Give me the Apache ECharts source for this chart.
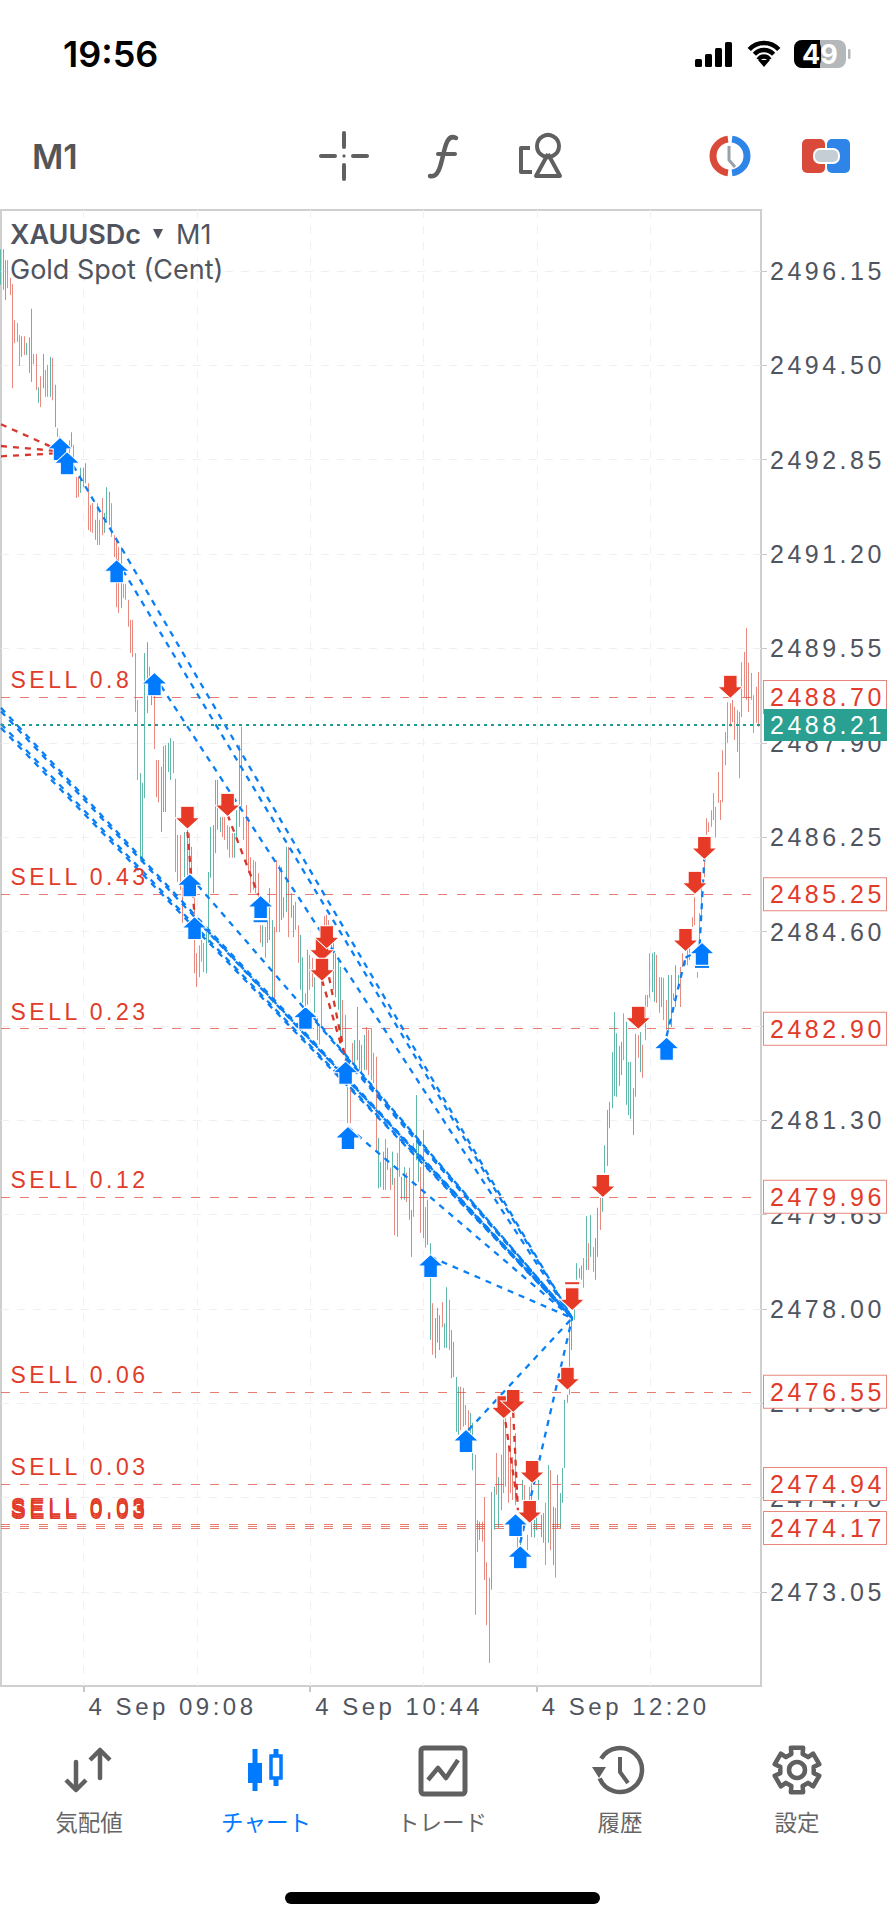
<!DOCTYPE html>
<html><head><meta charset="utf-8">
<style>
html,body{margin:0;padding:0;background:#fff}
#c{width:887px;height:1920px}
#c text[style*="Liberation Sans"]{letter-spacing:3.5px}
</style>
<script src="https://cdn.jsdelivr.net/npm/echarts@6/dist/echarts.min.js"></script>
</head><body><div id="c"></div>
<script>
const symbolName = 'XAUUSDc';
const priceTicks = [2473.05,2474.70,2476.35,2478.00,2479.65,2481.30,2482.95,2484.60,2486.25,2487.90,2489.55,2491.20,2492.85,2494.50,2496.15];
const barHigh = [2496.53,2496.53,2496.34,2496.34,2496.03,2495.92,2495.29,2495.24,2495.03,2495.01,2495.01,2494.89,2494.99,2495.49,2494.70,2494.70,2494.12,2494.31,2494.70,2494.42,2494.51,2494.65,2494.63,2494.16,2493.40,2493.26,2493.11,2493.02,2493.06,2493.19,2493.33,2493.11,2492.55,2492.55,2492.71,2492.71,2492.79,2492.44,2492.06,2492.09,2491.80,2492.09,2491.80,2492.18,2491.92,2492.37,2492.29,2492.09,2491.53,2491.50,2491.32,2491.32,2490.68,2490.68,2490.40,2490.05,2490.05,2489.47,2488.65,2487.37,2487.20,2489.47,2489.66,2489.23,2488.91,2488.82,2487.60,2487.60,2487.48,2487.84,2487.86,2487.90,2487.98,2487.93,2487.27,2486.29,2486.29,2485.36,2486.34,2486.38,2486.32,2486.08,2485.19,2484.22,2484.36,2484.45,2484.40,2484.59,2485.64,2486.43,2486.46,2487.25,2487.25,2486.60,2486.60,2486.60,2486.46,2486.43,2486.32,2486.32,2486.72,2487.86,2488.18,2486.60,2486.81,2486.60,2485.90,2485.85,2485.82,2485.62,2484.71,2484.71,2484.68,2484.77,2485.36,2484.80,2484.68,2485.85,2485.76,2485.73,2485.20,2486.08,2486.08,2485.27,2485.06,2485.12,2484.71,2484.54,2484.15,2483.52,2484.28,2484.19,2484.14,2483.80,2483.11,2482.97,2483.80,2484.87,2484.89,2484.80,2484.71,2484.45,2484.22,2484.10,2483.98,2483.40,2483.14,2481.88,2481.88,2482.65,2482.70,2483.28,2482.70,2482.62,2482.79,2482.93,2482.88,2482.91,2482.48,2482.41,2480.99,2480.57,2480.75,2480.97,2480.82,2480.47,2480.75,2480.29,2480.73,2481.01,2480.31,2480.48,2480.38,2480.47,2479.73,2480.90,2481.74,2480.95,2480.48,2481.13,2479.78,2479.91,2479.15,2478.10,2477.84,2478.02,2477.89,2478.12,2477.75,2478.38,2478.16,2477.63,2477.42,2476.81,2476.64,2476.64,2476.62,2476.32,2476.23,2476.18,2476.01,2475.45,2474.31,2474.28,2474.28,2474.71,2473.57,2473.30,2474.80,2474.89,2475.48,2475.06,2475.45,2476.11,2476.15,2475.62,2476.11,2475.41,2475.83,2474.05,2474.13,2475.01,2474.92,2474.05,2474.89,2474.97,2474.31,2474.66,2475.01,2474.40,2474.43,2474.61,2475.27,2475.18,2474.54,2474.52,2475.10,2474.78,2475.22,2476.41,2476.50,2477.81,2477.81,2478.33,2478.80,2478.71,2478.76,2478.89,2479.62,2479.15,2479.64,2479.08,2479.24,2479.77,2479.94,2479.94,2480.86,2481.48,2481.62,2482.49,2483.19,2482.82,2482.60,2482.67,2483.17,2483.02,2482.32,2482.32,2481.86,2482.81,2482.79,2482.84,2482.62,2483.49,2483.49,2484.22,2484.22,2484.24,2484.19,2483.80,2483.80,2483.79,2483.40,2483.84,2483.84,2483.52,2484.01,2483.84,2483.98,2484.22,2484.10,2484.36,2484.54,2484.85,2485.20,2483.89,2484.92,2485.50,2485.89,2486.58,2486.51,2486.72,2487.02,2486.78,2487.39,2486.90,2487.77,2488.09,2488.61,2488.59,2488.65,2488.53,2488.47,2488.44,2489.31,2489.49,2489.91,2489.30,2489.12,2488.73,2488.88,2489.14];
const barLow = [2495.91,2495.82,2495.64,2495.85,2495.73,2494.10,2494.89,2494.91,2494.49,2494.65,2494.68,2494.68,2494.37,2494.21,2494.52,2494.07,2493.84,2493.77,2494.10,2493.95,2493.95,2493.95,2493.89,2493.42,2493.25,2492.99,2492.93,2492.85,2492.81,2492.76,2493.07,2492.67,2492.18,2492.20,2492.27,2492.37,2492.44,2491.62,2491.59,2491.57,2491.45,2491.36,2491.36,2491.53,2491.57,2491.80,2491.71,2491.50,2491.15,2490.27,2490.17,2490.26,2490.43,2490.40,2489.93,2489.47,2489.40,2488.44,2487.25,2485.85,2485.85,2486.93,2488.42,2488.82,2488.56,2487.79,2486.95,2486.86,2486.34,2486.69,2486.69,2487.39,2487.25,2487.37,2485.64,2485.47,2485.33,2484.75,2485.55,2485.33,2485.59,2485.62,2483.87,2483.63,2483.80,2484.07,2483.89,2483.87,2484.40,2485.54,2485.27,2485.97,2486.38,2486.34,2486.25,2486.20,2486.03,2485.89,2485.89,2485.89,2486.25,2486.43,2486.78,2486.20,2485.80,2485.62,2485.27,2485.33,2485.27,2485.20,2484.40,2484.33,2484.14,2484.40,2484.45,2483.35,2483.40,2484.59,2484.59,2484.80,2484.84,2484.94,2484.50,2484.84,2484.50,2484.63,2484.05,2483.58,2483.35,2483.28,2483.32,2483.58,2483.63,2483.18,2482.70,2482.62,2482.93,2484.45,2484.54,2484.63,2484.28,2483.58,2483.45,2483.23,2482.76,2482.70,2482.35,2481.25,2481.25,2482.30,2482.18,2482.35,2482.18,2482.14,2482.18,2482.18,2482.09,2482.00,2481.95,2480.75,2480.11,2480.13,2480.08,2480.08,2480.43,2480.08,2480.17,2479.29,2479.26,2480.31,2479.91,2479.91,2479.87,2479.56,2478.91,2479.61,2480.60,2480.22,2479.33,2479.24,2479.07,2479.12,2477.46,2477.20,2477.14,2477.41,2477.28,2477.68,2477.32,2477.32,2477.28,2476.79,2476.81,2475.85,2475.80,2475.88,2475.94,2475.97,2475.83,2475.83,2475.18,2472.65,2473.75,2473.96,2473.93,2473.26,2472.47,2471.81,2473.09,2474.14,2474.75,2474.17,2474.48,2474.78,2474.89,2474.61,2474.78,2474.66,2474.57,2473.78,2473.87,2474.66,2474.66,2473.78,2474.54,2474.01,2474.00,2474.13,2474.66,2474.01,2473.91,2473.52,2473.91,2473.78,2473.52,2473.30,2474.17,2474.17,2474.61,2475.22,2476.36,2476.50,2477.28,2477.81,2478.51,2478.54,2478.51,2478.37,2478.68,2478.68,2478.91,2478.65,2478.51,2478.91,2479.38,2479.70,2480.38,2480.50,2481.16,2481.51,2481.72,2481.71,2481.90,2482.09,2482.35,2481.57,2481.39,2481.32,2481.04,2481.71,2482.39,2482.14,2482.04,2482.70,2483.28,2483.44,2483.54,2483.37,2483.35,2483.18,2483.28,2483.05,2482.88,2482.88,2482.93,2483.40,2483.28,2483.61,2483.28,2483.98,2484.01,2484.01,2484.10,2484.68,2484.71,2483.79,2484.45,2484.85,2485.55,2486.29,2486.34,2486.43,2486.55,2486.24,2486.85,2486.55,2486.86,2487.51,2487.90,2488.18,2488.26,2487.95,2487.74,2487.28,2488.35,2488.70,2488.65,2488.44,2488.65,2488.07,2488.25,2488.18];
const barDir = 'uuudddddduduuuddududdududddddduddduuuddduddduuudddduddddddduuuududdduuuuuddddduuuuddddduuuuuuuddddduuuddddddddduduuuddduuuduudduududduuddddduuuuuddddduuuuuddddduuudududdduuduuduududuuduuuduuduuuudddduuddudddduuduuddddddduuddduuuuuudududuuuuuuuuuuudududuuduuuuuuuuuduuuuududddduuddudduuuuu';
const sellLevels = [2488.70,2485.25,2482.90,2479.96,2476.55,2474.94,2474.24,2474.20,2474.17];
const sellLots = ['SELL 0.8','SELL 0.43','SELL 0.23','SELL 0.12','SELL 0.06','SELL 0.03','SELL 0.03','SELL 0.03','SELL 0.03'];
const hiddenTags = [2474.24,2474.20];
const bidPrice = 2488.21;
const buyArrows = [[25,2493.04],[28,2492.79],[49,2490.90],[65,2488.93],[80,2485.41],[82,2484.66],[110,2485.03],[129,2483.09],[146,2482.13],[147,2480.99],[182,2478.75],[197,2475.69],[218,2474.22],[220,2473.66],[282,2482.55],[297,2484.21]];
const sellArrows = [[79,2486.59],[96,2486.81],[136,2484.28],[138,2484.50],[136,2483.93],[242,2478.17],[240,2476.78],[213,2476.28],[217,2476.39],[225,2475.15],[224,2474.45],[255,2480.15],[309,2488.88],[298,2486.06],[294,2485.45],[290,2484.45],[270,2483.09]];
const buyClosedMarks = [[110,2484.78],[297,2483.98]];
const sellClosedMarks = [[242,2478.45]];
const buyTrades = [[0,2488.51,242,2477.84],[0,2488.45,242,2477.84],[0,2488.23,242,2477.84],[0,2488.16,242,2477.84],[28,2492.93,242,2477.84],[49,2491.10,242,2477.84],[65,2489.07,242,2477.84],[80,2485.57,242,2477.84],[82,2484.84,242,2477.84],[129,2483.26,242,2477.84],[146,2482.35,242,2477.84],[146,2482.38,242,2477.84],[147,2481.18,242,2477.84],[182,2478.91,242,2477.84],[198,2475.88,242,2477.84],[220,2473.91,242,2477.84],[282,2482.77,290,2484.14],[290,2484.14,297,2484.31],[296,2484.36,298,2485.88]];
const sellTrades = [[79,2486.34,82,2484.89],[96,2486.64,109,2485.24],[136,2483.75,146,2482.35],[139,2483.80,146,2482.35],[213,2476.23,219,2474.57],[217,2476.20,219,2474.48],[0,2493.47,27,2492.97],[0,2493.09,27,2492.99],[0,2492.91,27,2492.97]];
const startMinute = 8*60+33, barCount = 323;

const pad=n=>String(n).padStart(2,'0');
const categories = Array.from({length:barCount},(_,i)=>{const m=startMinute+i;return '4 Sep '+pad(Math.floor(m/60))+':'+pad(m%60);});
const candles = barHigh.map((h,i)=> barDir[i]==='u' ? [barLow[i],h,barLow[i],h] : [h,barLow[i],barLow[i],h]);

const AXF='"Liberation Sans"', UIF='Inter, Roboto, sans-serif', CJK='"Noto Sans CJK JP"';
const red='#e23b2a', teal='#29a091', blue='#0a7ff5', grayT='#50545e';
const upArrow='path://M12 0 L24 11 L18.5 11 L18.5 22 L5.5 22 L5.5 11 L0 11 Z';
const downArrow='path://M5.5 0 L18.5 0 L18.5 11 L24 11 L12 22 L0 11 L5.5 11 Z';

const sellLines = sellLevels.map(v=>({yAxis:v,label:hiddenTags.includes(v)?{show:false}:{show:true,formatter:v.toFixed(2)}}));

const tradeSeries = (list,color,z)=>list.map(t=>({type:'line',data:[[t[0],t[1]],[t[2],t[3]]],showSymbol:false,symbol:'none',silent:true,z,clip:true,lineStyle:{color,width:2.3,type:[6,6]}}));

const series=[
 {type:'candlestick',data:candles,barWidth:1,z:2,silent:true,
  itemStyle:{color:'#5fb8aa',color0:'#e98a80',borderColor:'#5fb8aa',borderColor0:'#e98a80',borderWidth:1},
  markLine:{silent:true,symbol:'none',animation:false,z:3,precision:2,
   lineStyle:{color:'rgba(224,80,63,.75)',width:1,type:[9,10]},
   label:{position:'end',distance:3,color:red,fontSize:25,fontFamily:AXF,backgroundColor:'#fff',borderColor:'#e8877d',borderWidth:1,padding:[4,0,3,6],width:116,align:'left'},
   data:sellLines}},
 {type:'line',data:[],z:4,silent:true,
  markLine:{silent:true,symbol:'none',animation:false,z:6,
   lineStyle:{color:'#1f9d8f',width:2,type:[3,4]},
   label:{position:'end',distance:3,color:'#fff',fontSize:25,fontFamily:AXF,backgroundColor:teal,padding:[4,0,3,6],width:117,align:'left',formatter:bidPrice.toFixed(2)},
   data:[{yAxis:bidPrice}]}},
 ...tradeSeries(sellTrades,'#d9362b',5),
 ...tradeSeries(buyTrades,blue,5),
 {type:'scatter',data:sellLevels.map((v,i)=>({value:[0,v],name:sellLots[i]})),symbolSize:1,z:7,silent:true,
  itemStyle:{color:'transparent',opacity:1},
  label:{show:true,position:'right',distance:9,offset:[0,-17],formatter:'{b}',color:red,fontSize:23,fontFamily:AXF}},
 {type:'scatter',data:sellClosedMarks,symbol:'rect',symbolSize:[14,2],z:7,silent:true,itemStyle:{color:red,opacity:1}},
 {type:'scatter',data:buyClosedMarks,symbol:'rect',symbolSize:[14,2],z:7,silent:true,itemStyle:{color:blue,opacity:1}},
 {type:'scatter',data:sellArrows,symbol:downArrow,symbolSize:[25,23],z:8,silent:true,itemStyle:{color:'#e63a27',borderColor:'#fff',borderWidth:1,opacity:1}},
 {type:'scatter',data:buyArrows,symbol:upArrow,symbolSize:[25,23],z:9,silent:true,itemStyle:{color:'#007aff',borderColor:'#fff',borderWidth:1,opacity:1}}
];

const gray='#606060', Z=100;
const txt=(x,y,text,font,fill,align='left',w=400)=>({type:'text',z:Z,x,y,style:{text,fill,font:`${w} ${font}`,textAlign:align,textVerticalAlign:'middle'}});
const ln=(x1,y1,x2,y2,stroke,lw,cap='round')=>({type:'line',z:Z,shape:{x1,y1,x2,y2},style:{stroke,lineWidth:lw,lineCap:cap}});
const rc=(x,y,width,height,r,fill,stroke,lw)=>({type:'rect',z:Z,shape:{x,y,width,height,r},style:{fill:fill||'none',stroke:stroke||'none',lineWidth:lw||0}});
const arc=(cx,cy,r,a,b,stroke,lw)=>({type:'arc',z:Z,shape:{cx,cy,r,startAngle:a,endAngle:b,clockwise:true},style:{stroke,lineWidth:lw,fill:'none'}});
const poly=(points,stroke,lw)=>({type:'polyline',z:Z,shape:{points},style:{stroke,lineWidth:lw,fill:'none',lineJoin:'round'}});
const pg=(points,fill)=>({type:'polygon',z:Z,shape:{points},style:{fill}});

const gearPts=[];for(let k=0;k<6;k++){const a=k*Math.PI/3-Math.PI/2;const s=0.27;[[-s*1.25,17],[-s,23],[s,23],[s*1.25,17]].forEach(([d,r])=>gearPts.push([797+r*Math.cos(a+d),1770+r*Math.sin(a+d)]));}

const chrome=[
 txt(63,54,'19:56','36px '+UIF,'#000','left',600),
 rc(695,59,7,8,1.5,'#000'),rc(705,54,7,13,1.5,'#000'),rc(715,48,7,19,1.5,'#000'),rc(725,42,7,25,1.5,'#000'),
 arc(764,63,20,-2.4,-0.74,'#000',4.5),arc(764,63,13,-2.4,-0.74,'#000',4.5),arc(764,63,6.5,-2.6,-0.54,'#000',4.5),pg([[758,60],[764,67],[770,60]],'#000'),
 rc(794,40,52,28,8,'#b5b8ba'),rc(794,40,27,28,8,'#000'),rc(812,40,8,28,0,'#000'),rc(848,49,2.5,10,1,'#b5b8ba'),
 txt(820,54,'49','27px '+UIF,'#fff','center',700),
 txt(32,156,'M1','34px '+UIF,'#555','left',600),
 ln(344,133,344,147,gray,4),ln(344,165,344,179,gray,4),ln(321,156,335,156,gray,4),ln(353,156,367,156,gray,4),{type:'circle',z:Z,shape:{cx:344,cy:156,r:1.6},style:{fill:gray}},
 {type:'bezierCurve',z:Z,shape:{x1:456,y1:138,cpx1:440,cpy1:130,cpx2:446,cpy2:180,x2:430,y2:176},style:{stroke:gray,lineWidth:4.5,fill:'none',lineCap:'round'}},ln(438,154,455,154,gray,4),
 poly([[530,148],[521,148],[521,172],[532,172]],gray,4),{type:'circle',z:Z,shape:{cx:548,cy:146,r:11},style:{stroke:gray,lineWidth:4,fill:'none'}},
 poly([[548,154],[536,176],[560,176],[548,154]],gray,4),
 arc(730,156,17,Math.PI/2+0.12,-Math.PI/2-0.12,'#d94a3b',7),arc(730,156,17,-Math.PI/2+0.12,Math.PI/2-0.12,'#2f84e8',7),poly([[729,146],[729,160],[735,167]],'#9aa1a6',3),
 rc(802,139,23,34,5,'#d94a3b'),rc(827,139,23,34,5,'#2f84e8'),rc(814,149,25,14,6,'#c4ced4','#fff',2),
 txt(10,234,symbolName,'27px '+UIF,'#50545e','left',600),
 pg([[153,229],[163,229],[158,239]],'#50545e'),
 txt(176,234,'M1','27px '+UIF,'#50545e'),
 txt(10,269,'Gold Spot (Cent)','27px '+UIF,'#50545e'),
 // bottom navigation
 ln(100,1751,100,1778,gray,4.5),poly([[90,1760],[100,1750],[110,1760]],gray,4.5),
 ln(76,1762,76,1789,gray,4.5),poly([[66,1780],[76,1790],[86,1780]],gray,4.5),
 ln(255,1749,255,1791,'#007aff',5,'butt'),rc(248,1763,14,20,0,'#007aff'),
 ln(276,1749,276,1786,'#007aff',5,'butt'),rc(271,1756,10,22,0,'#fff','#007aff',3.5),
 rc(421,1748,44,46,3,'none',gray,5),poly([[428,1780],[438,1768],[446,1778],[458,1760]],gray,4.5),
 arc(620,1770,22,-2.6,2.75,gray,4.5),pg([[592,1767],[606,1767],[599,1778]],gray),poly([[620,1757],[620,1772],[628,1783]],gray,4),
 {type:'polygon',z:Z,shape:{points:gearPts},style:{fill:'none',stroke:gray,lineWidth:4.5,lineJoin:'round'}},{type:'circle',z:Z,shape:{cx:797,cy:1770,r:8},style:{fill:'none',stroke:gray,lineWidth:4.5}},
 txt(89,1821,'気配値','22.5px '+CJK,'#666','center'),
 txt(266,1821,'チャート','22.5px '+CJK,'#007aff','center'),
 txt(442,1821,'トレード','22.5px '+CJK,'#666','center'),
 txt(620,1821,'履歴','22.5px '+CJK,'#666','center'),
 txt(797,1821,'設定','22.5px '+CJK,'#666','center'),
 rc(285,1892,315,12,6,'#000')
];

const chart=echarts.init(document.getElementById('c'),null,{renderer:'svg',width:887,height:1920});
chart.setOption({
 animation:false,backgroundColor:'#fff',
 grid:{left:1,top:210,width:760,height:1476,show:true,borderColor:'#cfcfcf',borderWidth:2,backgroundColor:'#fff'},
 xAxis:{type:'category',data:categories,boundaryGap:false,
  axisLine:{show:false},
  axisTick:{show:true,length:6,lineStyle:{color:'#c8c8c8',width:2},interval:(i)=>(i-35)%96===0},
  splitLine:{show:true,lineStyle:{color:'#eef0f2',width:1,type:[8,8]},interval:(i)=>(i-35)%48===0},
  axisLabel:{interval:(i)=>(i-35)%96===0,align:'left',padding:[0,0,0,5],margin:8,color:grayT,fontSize:24,fontFamily:AXF,hideOverlap:false}},
 yAxis:{type:'value',position:'right',min:2471.406,max:2497.217,scale:true,
  axisLine:{show:false},
  axisTick:{show:true,length:6,lineStyle:{color:'#c8c8c8',width:1},customValues:priceTicks},
  splitLine:{show:true,lineStyle:{color:'#eef0f2',width:1,type:[8,8]}},
  axisLabel:{customValues:priceTicks,margin:9,align:'left',color:grayT,fontSize:25,fontFamily:AXF,formatter:v=>v.toFixed(2),hideOverlap:false}},
 series,
 graphic:{elements:chrome}
});
</script></body></html>
